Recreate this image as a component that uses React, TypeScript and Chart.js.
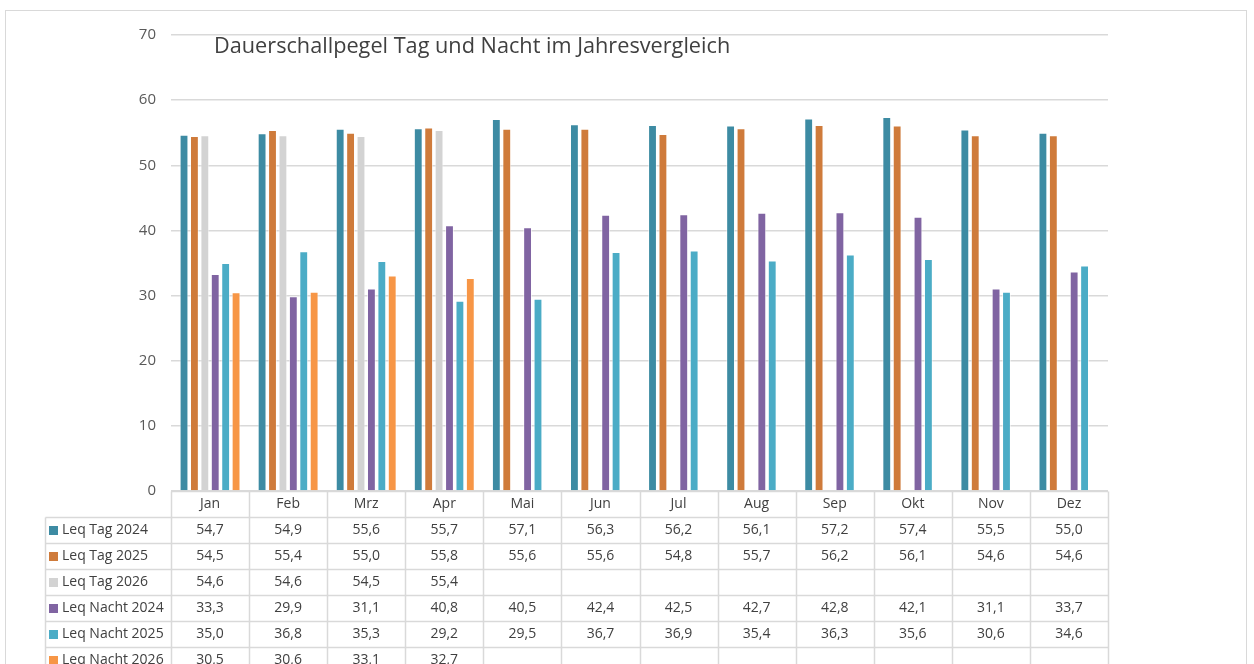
import { useEffect, useRef } from "react";
import { Chart, registerables } from "chart.js";
Chart.register(...registerables);

const months = ["Jan", "Feb", "Mrz", "Apr", "Mai", "Jun", "Jul", "Aug", "Sep", "Okt", "Nov", "Dez"];
const seriesNames = ["Leq Tag 2024", "Leq Tag 2025", "Leq Tag 2026", "Leq Nacht 2024", "Leq Nacht 2025", "Leq Nacht 2026"];
const tag2024 = [54.7, 54.9, 55.6, 55.7, 57.1, 56.3, 56.2, 56.1, 57.2, 57.4, 55.5, 55.0];
const tag2025 = [54.5, 55.4, 55.0, 55.8, 55.6, 55.6, 54.8, 55.7, 56.2, 56.1, 54.6, 54.6];
const tag2026 = [54.6, 54.6, 54.5, 55.4, null, null, null, null, null, null, null, null];
const nacht2024 = [33.3, 29.9, 31.1, 40.8, 40.5, 42.4, 42.5, 42.7, 42.8, 42.1, 31.1, 33.7];
const nacht2025 = [35.0, 36.8, 35.3, 29.2, 29.5, 36.7, 36.9, 35.4, 36.3, 35.6, 30.6, 34.6];
const nacht2026 = [30.5, 30.6, 33.1, 32.7, null, null, null, null, null, null, null, null];
const seriesColors = ["#3D8BA3", "#CF7B3B", "#D3D3D3", "#8064A2", "#4BACC6", "#F79646"];
const yTicks = [0, 10, 20, 30, 40, 50, 60, 70];
const title = "Dauerschallpegel Tag und Nacht im Jahresvergleich";

const FONT = "'Open Sans', 'Noto Sans', sans-serif";
const GRID = "#D9D9D9";
const TEXT = "#404040";

const fmt = (v: number | null) => (v == null ? "" : v.toFixed(1).replace(".", ","));

const tablePlugin = {
  id: "dataTable",
  beforeDraw(chart: any) {
    const ctx = chart.ctx;
    ctx.save();
    ctx.fillStyle = "#FFFFFF";
    ctx.fillRect(0, 0, chart.width, chart.height);
    ctx.strokeStyle = GRID;
    ctx.lineWidth = 1;
    ctx.strokeRect(5.5, 10.5, 1241, 700);
    ctx.restore();
  },
  afterDraw(chart: any) {
    const { ctx, chartArea } = chart;
    const x = chart.scales.x;
    const rowH = 26;
    const top = Math.round(chartArea.bottom) + 0.5;
    const left = chartArea.left;
    const right = chartArea.right;
    const legendLeft = 45.5;
    const colW = (right - left) / months.length;
    const nRows = seriesNames.length + 1;
    ctx.save();
    ctx.strokeStyle = GRID;
    ctx.lineWidth = 1.5;
    ctx.beginPath();
    ctx.moveTo(left, top);
    ctx.lineTo(right, top);
    for (let i = 1; i <= nRows; i++) {
      const y = top + i * rowH;
      ctx.moveTo(legendLeft, y);
      ctx.lineTo(right, y);
    }
    for (let j = 0; j <= months.length; j++) {
      const xx = Math.round(left + j * colW) + 0.5;
      ctx.moveTo(xx, top);
      ctx.lineTo(xx, top + nRows * rowH);
    }
    ctx.moveTo(legendLeft, top + rowH);
    ctx.lineTo(legendLeft, top + nRows * rowH);
    ctx.stroke();

    ctx.fillStyle = TEXT;
    ctx.font = `14px ${FONT}`;
    ctx.textAlign = "center";
    ctx.textBaseline = "middle";
    months.forEach((m, j) => {
      ctx.fillText(m, x.getPixelForValue(j), top + rowH / 2);
    });
    chart.data.datasets.forEach((ds: any, i: number) => {
      const yc = top + (i + 1) * rowH + rowH / 2;
      ctx.fillStyle = ds.backgroundColor;
      ctx.fillRect(49, yc - 4.5, 9, 9);
      ctx.fillStyle = TEXT;
      ctx.textAlign = "left";
      ctx.fillText(ds.label, 62, yc);
      ctx.textAlign = "center";
      ds.data.forEach((v: number | null, j: number) => {
        ctx.fillText(fmt(v), x.getPixelForValue(j), yc);
      });
    });

    ctx.font = `21.7px ${FONT}`;
    ctx.fillStyle = TEXT;
    ctx.textAlign = "left";
    ctx.textBaseline = "middle";
    ctx.fillText(title, 214, 47);
    ctx.restore();
  },
};

export default function App() {
  const ref = useRef<HTMLCanvasElement>(null);
  useEffect(() => {
    const series = [tag2024, tag2025, tag2026, nacht2024, nacht2025, nacht2026];
    const chart = new Chart(ref.current!, {
      type: "bar",
      data: {
        labels: months,
        datasets: series.map((d, i) => ({
          label: seriesNames[i],
          data: d,
          backgroundColor: seriesColors[i],
          borderColor: "rgba(255,255,255,0.6)",
          borderWidth: 1,
          barPercentage: 0.85,
          categoryPercentage: 0.8,
        })),
      },
      options: {
        animation: false,
        responsive: false,
        events: [],
        layout: { padding: { left: 131, right: 146, top: 35, bottom: 173 } },
        plugins: { legend: { display: false }, title: { display: false }, tooltip: { enabled: false } },
        scales: {
          x: { display: false },
          y: {
            min: 0,
            max: 70,
            afterFit: (s: any) => {
              s.width = 40;
            },
            afterBuildTicks: (s: any) => {
              s.ticks = yTicks.map((v) => ({ value: v }));
            },
            grid: { color: GRID, drawTicks: false, lineWidth: 1.5 },
            border: { display: false },
            ticks: { color: "#595959", font: { family: FONT, size: 15 }, padding: 15 },
          },
        },
      },
      plugins: [tablePlugin],
    });
    return () => chart.destroy();
  }, []);
  return (
    <div style={{ position: "absolute", left: 0, top: 0, width: 1254, height: 664 }}>
      <canvas ref={ref} width={1254} height={664} style={{ width: 1254, height: 664 }} />
    </div>
  );
}
